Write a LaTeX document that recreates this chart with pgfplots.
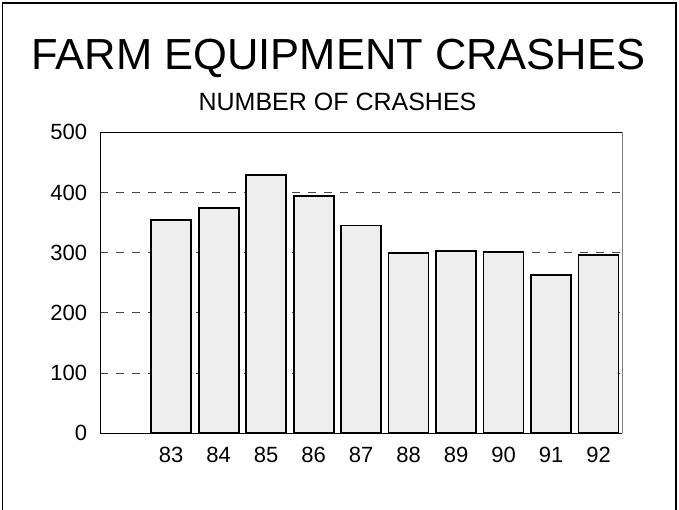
\documentclass[border=0pt]{standalone}
\usepackage{pgfplots}
\pgfplotsset{compat=1.18}
\usepackage{fontspec}
\setmainfont{Liberation Sans}
\definecolor{barfill}{HTML}{EEEEEE}
\definecolor{gridc}{HTML}{444444}
\begin{document}
\begin{tikzpicture}[x=1pt,y=1pt]
\useasboundingbox (0,0) rectangle (679,-510);
\draw[line width=1.5pt] (2.5,-520) -- (2.5,-3) -- (676,-3) -- (676,-520);
\node[anchor=base,inner sep=0pt,font=\fontsize{43.5}{48}\selectfont] at (338.5,-70) {FARM EQUIPMENT CRASHES};
\node[anchor=base,inner sep=0pt,font=\fontsize{25}{29}\selectfont] at (337.5,-110.5) {NUMBER OF CRASHES};
\begin{axis}[
  at={(100pt,-433.3pt)}, anchor=south west,
  scale only axis, width=522.3pt, height=301pt,
  xmin=-1.5, xmax=9.5, ymin=0, ymax=500,
  ytick={0,100,200,300,400,500},
  xtick={0,1,2,3,4,5,6,7,8,9},
  xticklabels={83,84,85,86,87,88,89,90,91,92},
  major tick length=0pt,
  axis line style={draw=none},
  ymajorgrids,
  grid style={gridc, line width=1pt, dash pattern=on 8pt off 8pt},
  /pgf/number format/assume math mode=true,
  tick label style={font=\fontsize{22}{26}\selectfont, inner sep=0pt},
  yticklabel style={anchor=east, xshift=-12.7pt},
  xticklabel style={anchor=north, yshift=-13.4pt},
  clip=false,
]
\addplot[ybar, bar width=40pt, fill=barfill, draw=black, line width=1.7pt]
  coordinates {(0,354) (1,374) (2,429) (3,394) (4,345) (5,300) (6,303) (7,301) (8,263) (9,296)};
\draw[gray, line width=1pt] (rel axis cs:1,0) -- (rel axis cs:1,1);
\draw[black, line width=1pt] (rel axis cs:1,1) -- (rel axis cs:0,1) -- (rel axis cs:0,0) -- (rel axis cs:1,0);
\end{axis}
\end{tikzpicture}
\end{document}
